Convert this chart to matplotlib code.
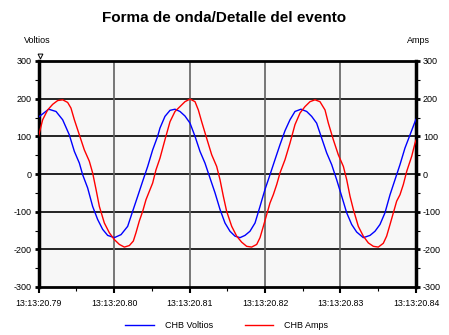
import matplotlib
matplotlib.use("Agg")
import matplotlib.pyplot as plt
from matplotlib import font_manager
from matplotlib.ticker import MultipleLocator, FuncFormatter

# tiempo en ms desde 13:13:20.79
t_volt = [0.0, 1.35, 2.32, 3.20, 4.08, 4.75, 5.41, 5.85, 6.51, 7.17, 7.84, 8.50, 9.16,
          10.04, 10.93, 11.81, 12.47, 13.14, 13.80, 14.46, 15.12, 15.78,
          16.09, 16.75, 17.42, 18.08, 18.74, 19.40, 20.07, 20.73, 21.39, 22.05, 22.72,
          23.38, 24.04, 24.70, 25.36, 26.03, 26.69, 27.35, 28.01, 28.68, 29.34, 30.00,
          30.66, 31.32, 31.99, 32.65,
          33.31, 33.97, 34.77, 35.52, 36.18, 36.84, 37.51, 38.17, 38.83, 39.49, 40.16,
          40.82, 41.48, 42.14, 43.02, 43.91, 44.57, 45.23, 45.89, 46.56, 47.22, 47.88,
          48.54, 49.21, 49.87, 50.0]
volt = [151, 172, 166, 144, 104, 60, 29, -2, -37, -86, -121, -147, -163,
        -169, -161, -139, -99, -59, -19, 20, 64, 100,
        122, 153, 169, 172, 166, 154, 135, 100, 60, 29, -11,
        -50, -94, -130, -152, -165, -169, -163, -152, -130, -86, -41,
        -2, 38, 78, 115,
        144, 166, 172, 166, 153, 135, 95, 56, 25, -15, -59,
        -103, -134, -154, -169, -163, -152, -134, -103, -55, -15, 25,
        69, 104, 139, 145]

t_amps = [0.0, 0.55, 1.21, 1.88, 2.54, 3.20, 3.86, 4.30, 4.75, 5.41, 6.07, 6.73, 7.17,
          7.62, 8.06, 8.72, 9.38, 10.04, 10.71, 11.37, 12.03, 12.56, 12.91, 13.35,
          13.80, 14.24, 14.68, 15.12, 15.56,
          16.09, 16.75, 17.42, 18.08, 18.74, 19.40, 20.07, 20.73, 21.17, 21.61, 22.27,
          22.94, 23.60, 24.04, 24.48, 24.92, 25.59, 26.25, 26.91, 27.57, 28.23, 28.90,
          29.34, 29.78, 30.22, 30.66, 31.10, 31.55, 31.99, 32.65,
          33.31, 33.97, 34.64, 35.30, 35.96, 36.62, 37.28, 37.95, 38.39, 39.05, 39.71,
          40.38, 40.82, 41.26, 41.70, 42.36, 43.02, 43.69, 44.35, 45.01, 45.67, 46.11,
          46.56, 47.00, 47.44, 47.88, 48.32, 48.77, 49.43, 49.87, 50.0]
amps = [100, 144, 170, 185, 195, 197, 190, 175, 144, 104, 64, 34, 3,
        -41, -86, -130, -156, -174, -187, -194, -190, -178, -156, -125,
        -99, -68, -46, -24, 11,
        42, 91, 139, 166, 179, 192, 199, 192, 170, 139, 95,
        51, 20, -15, -59, -99, -139, -165, -181, -192, -194, -187,
        -169, -139, -108, -77, -55, -28, 3, 38,
        82, 131, 162, 179, 192, 197, 192, 170, 135, 91, 51,
        20, -15, -59, -94, -139, -165, -183, -192, -194, -184, -165,
        -134, -103, -72, -55, -28, 7, 47, 82, 90]

x_ticks = [20.79, 20.80, 20.81, 20.82, 20.83, 20.84]

names = {f.name for f in font_manager.fontManager.ttflist}
fam = "Liberation Sans Narrow" if "Liberation Sans Narrow" in names else "Liberation Sans"
plt.rcParams["font.family"] = [fam, "DejaVu Sans"]
plt.rcParams["axes.unicode_minus"] = False

fig = plt.figure(figsize=(4.49, 3.35), dpi=100)
ax = fig.add_axes([38.5 / 449, 1 - 287 / 335, (416 - 38.5) / 449, (287 - 61) / 335])
ax.set_facecolor("#f7f7f7")

tv = [20.79 + v / 1000 for v in t_volt]
ta = [20.79 + v / 1000 for v in t_amps]
ax.plot(tv, volt, color="#0000ff", lw=1.0, label="CHB Voltios", zorder=3)
ax.plot(ta, amps, color="#ff0000", lw=1.0, label="CHB Amps", zorder=3)

ax.set_xlim(20.79, 20.84)
ax.set_ylim(-300, 300)
ax.set_xticks(x_ticks)
ax.xaxis.set_minor_locator(MultipleLocator(0.005))
ax.yaxis.set_major_locator(MultipleLocator(100))
ax.yaxis.set_minor_locator(MultipleLocator(50))
ax.xaxis.set_major_formatter(FuncFormatter(lambda v, p: "13:13:%.2f" % v))

for y in range(-200, 300, 100):
    ax.axhline(y, color="black", lw=1.2, zorder=1)
for x in x_ticks[1:-1]:
    ax.axvline(x, color="#606060", lw=1.2, zorder=1)

for s in ["left", "right"]:
    ax.spines[s].set_linewidth(2.5)
for s in ["top", "bottom"]:
    ax.spines[s].set_linewidth(2)

ax.tick_params(axis="y", which="major", left=True, right=True, labelleft=True,
               labelright=True, length=3, width=2, labelsize=6.5, pad=2)
ax.tick_params(axis="y", which="minor", left=True, right=True, length=3, width=0.8)
ax.tick_params(axis="x", which="major", length=4, width=1.5, labelsize=6.3, pad=5)
ax.tick_params(axis="x", which="minor", length=3, width=0.8)

fig.text(0.5, 0.945, "Forma de onda/Detalle del evento", ha="center", va="center",
         fontsize=11, fontweight="bold")
fig.text(37 / 449, 0.88, "Voltios", ha="center", va="center", fontsize=6.5)
fig.text(418 / 449, 0.88, "Amps", ha="center", va="center", fontsize=6.5)
# pequeño marcador del cursor
ax.plot([20.7902], [312], marker="v", ms=3.5, mfc="white", mec="black", mew=0.7,
        clip_on=False, zorder=5)

fig.legend(loc="center", bbox_to_anchor=(0.505, 0.028), ncol=2, frameon=False,
           fontsize=6.5, handlelength=3.2, columnspacing=3.5, handletextpad=1.2)

fig.savefig("out.png", dpi=100)
